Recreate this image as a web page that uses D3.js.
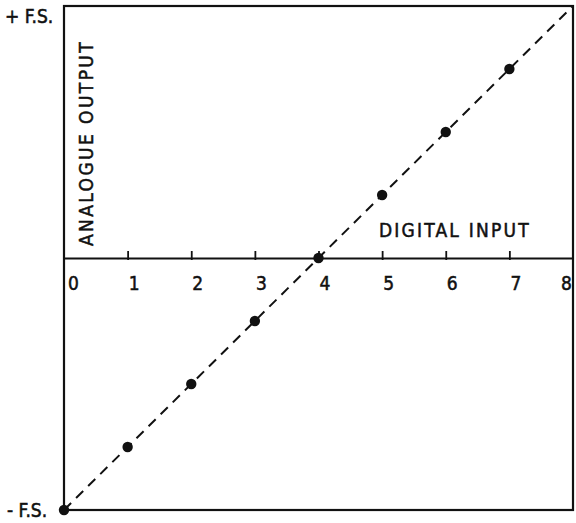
<!DOCTYPE html>
<html><head><meta charset="utf-8">
<script src="https://cdn.jsdelivr.net/npm/d3@7"></script>
<style>body{margin:0;background:#fff}svg text{font-family:"DejaVu Sans Condensed","Liberation Sans Narrow","DejaVu Sans",sans-serif;fill:#111;stroke:#111;stroke-width:0.5}</style>
</head><body><svg id="c" width="576" height="523"></svg>
<script>
const digitalInputs = [0,1,2,3,4,5,6,7];
const analogueOutputs = [-4,-3,-2,-1,0,1,2,3];
const tickValues = [0,1,2,3,4,5,6,7,8];
const tickLabels = ["0","1","2","3","4","5","6","7","8"];
const lineEnds = [[0,-4],[8,4]];

const svg = d3.select("#c");
const x = d3.scaleLinear().domain([0,8]).range([64,573]);
const y = d3.scaleLinear().domain([-4,4]).range([510,6]);
const ink = "#111";

// frame
svg.append("rect").attr("x",x(0)).attr("y",y(4)).attr("width",x(8)-x(0)).attr("height",y(-4)-y(4))
  .attr("fill","none").attr("stroke",ink).attr("stroke-width",2.2);

// horizontal axis at zero output
const axis = d3.axisBottom(x).tickValues(tickValues).tickFormat("").tickSize(0);
const g = svg.append("g").attr("transform",`translate(0,${y(0)})`).call(axis);
g.select(".domain").attr("stroke",ink).attr("stroke-width",2.2);
g.selectAll(".tick").filter(d=>d>0&&d<8).append("line")
  .attr("y1",-7).attr("y2",2).attr("stroke",ink).attr("stroke-width",1.8);
g.selectAll(".tick").append("text")
  .attr("x",d=>d===0?9:(d===8?-7:6)).attr("y",32)
  .attr("text-anchor","middle").attr("font-size",19).attr("fill",ink)
  .text((d,i)=>tickLabels[i]);

// dashed ideal line
svg.append("line").attr("x1",x(lineEnds[0][0])).attr("y1",y(lineEnds[0][1]))
  .attr("x2",x(lineEnds[1][0])).attr("y2",y(lineEnds[1][1]))
  .attr("stroke",ink).attr("stroke-width",2).attr("stroke-dasharray","10,7");

// points
svg.selectAll("circle.pt").data(digitalInputs).enter().append("circle")
  .attr("class","pt").attr("cx",(d)=>x(d)).attr("cy",(d,i)=>y(analogueOutputs[i]))
  .attr("r",5.2).attr("fill",ink);

// labels
svg.append("text").attr("x",379).attr("y",237).attr("font-size",19).attr("letter-spacing",2.2).text("DIGITAL INPUT");
svg.append("text").attr("transform","translate(93,246) rotate(-90)").attr("font-size",19).attr("letter-spacing",2.4).text("ANALOGUE OUTPUT");
svg.append("text").attr("x",5).attr("y",23).attr("font-size",19).text("+ F.S.");
svg.append("text").attr("x",7).attr("y",517).attr("font-size",19).text("- F.S.");
</script></body></html>
